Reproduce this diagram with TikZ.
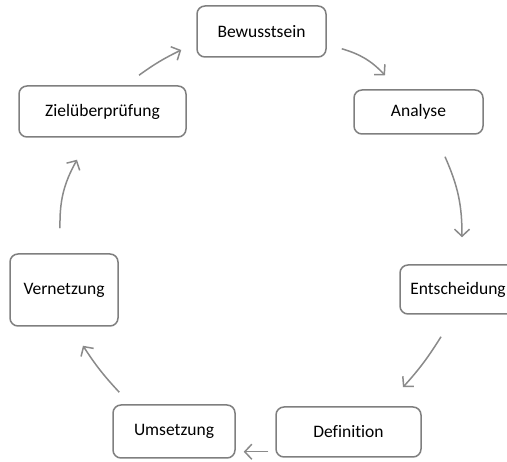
\documentclass[tikz,border=0pt]{standalone}
\usepackage{fontspec}
\setmainfont[Ligatures=CommonOff]{Carlito}
\usetikzlibrary{arrows.meta,calc}
\definecolor{boxgray}{HTML}{7F7F7F}
\definecolor{arrgray}{HTML}{8A8A8A}
\tikzset{
  stepbox/.style={draw=boxgray, line width=1.5pt, rounded corners=8pt, fill=white,
    inner sep=0pt, font=\fontsize{17.5}{20}\selectfont, text=black},
  cyclearr/.style={draw=arrgray, line width=1.5pt,
    -{Straight Barb[length=7pt,width=15pt,line width=1.5pt]}},
}
\begin{document}
\begin{tikzpicture}[x=1pt,y=1pt]
\useasboundingbox (0,0) rectangle (507,-462);
\node[stepbox, minimum width=129pt, minimum height=51pt] (bew) at (261.5,-31.5) {Bewusstsein};
\node[stepbox, minimum width=129pt, minimum height=44pt] (ana) at (418.5,-112) {Analyse};
\node[stepbox, minimum width=116pt, minimum height=49pt] (ent) at (458,-289.5) {Entscheidung};
\node[stepbox, minimum width=145pt, minimum height=50pt] (def) at (348.5,-432) {Definition};
\node[stepbox, minimum width=122pt, minimum height=53pt] (ums) at (174,-431.5) {Umsetzung};
\node[stepbox, minimum width=108pt, minimum height=72pt] (ver) at (64,-290) {Vernetzung};
\node[stepbox, minimum width=167pt, minimum height=51pt] (ziel) at (102.5,-111.5) {Zielüberprüfung};

\draw[cyclearr] ($(bew.south east)+(15,9)$) to[bend left=15] ($(ana.north)+(-33.5,14)$);
\draw[cyclearr] ($(ana.south)+(26.5,-22)$) to[bend left=12] ($(ent.north)+(4,27)$);
\draw[cyclearr] ($(ent.south)+(-17,-22)$) to[bend left=5] ($(def.north)+(54.5,19)$);
\draw[cyclearr] ($(def.south west)+(-7,6)$) -- ($(ums.south east)+(8,7)$);
\draw[cyclearr] ($(ums.north west)+(7,12)$) to[bend left=5] ($(ver.south)+(19,-19)$);
\draw[cyclearr] ($(ver.north)+(-4,25)$) to[bend left=15] ($(ziel.south)+(-25.5,-22)$);
\draw[cyclearr] ($(ziel.north)+(36.5,10)$) to[bend left=5] ($(bew.west)+(-15,-18.5)$);
\end{tikzpicture}
\end{document}
